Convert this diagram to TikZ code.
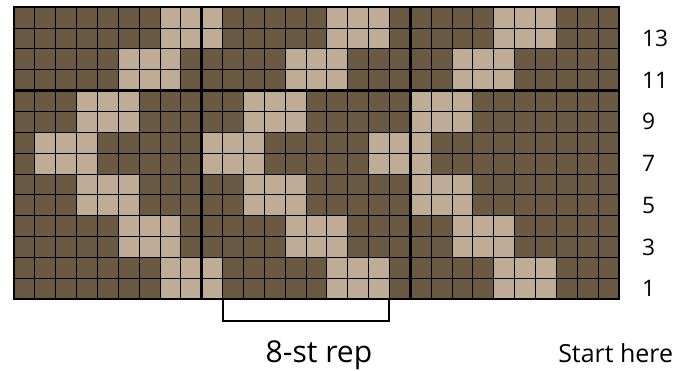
\documentclass[tikz,border=0pt]{standalone}
\usepackage{fontspec}
\setmainfont{Open Sans}
\usetikzlibrary{positioning}
\definecolor{chartdark}{HTML}{6B5A43}
\definecolor{chartlight}{HTML}{BEAC97}

\begin{document}
\begin{tikzpicture}[x=0.5cm, y=0.5cm, every node/.style={inner sep=0pt}]
  \useasboundingbox (-0.67,-3.42) rectangle (31.64,14.34);
  % Background stitches
  \fill[chartdark] (0,0) rectangle (29,14);

  % Light stitches (three chevrons)
  \foreach \r/\s in {0/7, 2/5, 4/3, 6/1, 8/3, 10/5, 12/7}{
    \foreach \k in {0,8,16}{
      \fill[chartlight] (\s+\k,\r) rectangle (\s+\k+3,\r+2);
    }
  }

  % Grid
  \draw[black, line width=0.6pt, step=0.5cm] (0,0) grid (29,14);
  \draw[black, line width=1.8pt] (9,0) -- (9,14) (19,0) -- (19,14) (0,10) -- (29,10);
  \draw[black, line width=1.8pt] (0,0) rectangle (29,14);

  % Row numbers
  \foreach \n in {1,3,...,13}{
    \node[anchor=west, font=\fontsize{15.5}{15.5}\selectfont] (row\n) at (30.1,\n-0.5) {\n};
  }

  % Repeat bracket
  \draw[black, line width=1.4pt] (10,0) -- (10,-1.05) -- (18,-1.05) -- (18,0);
  \node[anchor=base, font=\fontsize{20.5}{20.5}\selectfont] (rep) at (14.62,-3.03) {8-st rep};
  \node[anchor=base west, font=\fontsize{17}{17}\selectfont] (start) at (26.08,-3.03) {Start here};
\end{tikzpicture}
\end{document}
